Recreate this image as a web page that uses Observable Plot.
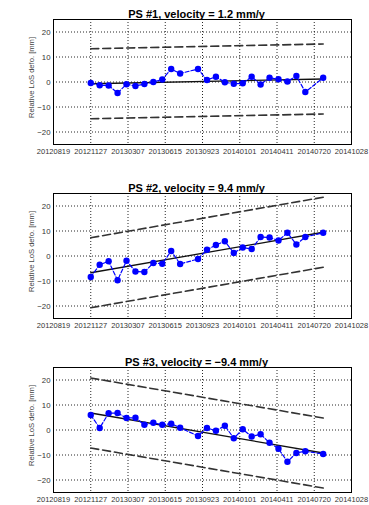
<!DOCTYPE html>
<html>
<head>
<meta charset="utf-8">
<script src="https://cdn.jsdelivr.net/npm/d3@7"></script>
<script src="https://cdn.jsdelivr.net/npm/@observablehq/plot@0.6"></script>
<style>
  html, body { margin: 0; padding: 0; background: white; overflow: hidden; }
  #chart svg { display: block; }
</style>
</head>
<body>
<div id="chart"></div>
<script>
// Acquisition dates (yyyymmdd)
const dates = ["20121127","20121221","20130114","20130207","20130303","20130327","20130420",
  "20130514","20130607","20130701","20130725","20130911","20131005","20131029","20131122",
  "20131216","20140109","20140202","20140226","20140322","20140415","20140509","20140602",
  "20140626","20140813"];

// Relative LoS deformation [mm] per PS
const ps1 = [-0.4,-1.3,-1.4,-4.4,-0.9,-1.6,-0.8,0.0,1.0,5.2,3.4,5.2,0.8,2.1,-0.1,-0.7,-0.5,2.1,-1.0,1.7,1.1,0.2,2.4,-4.0,1.7];
const ps2 = [-8.4,-3.5,-2.1,-9.7,-1.9,-6.2,-6.4,-2.8,-3.1,2.0,-3.2,-1.2,2.5,4.4,5.9,1.2,3.4,2.8,7.6,7.4,6.2,9.3,4.6,7.6,9.3];
const ps3 = [6.0,0.8,6.7,6.8,4.8,4.9,2.1,2.9,2.1,2.5,0.9,-2.4,0.8,-0.3,1.7,-3.3,0.3,-2.6,-1.7,-5.1,-7.5,-12.7,-9.2,-8.5,-9.6];

// Fitted trend (start, end) [mm] and confidence band half-width
const trend1 = [-0.7, 1.2];
const trend2 = [-6.7, 9.5];
const trend3 = [6.8, -9.2];
const bandHalfWidth = 14;

const titles = ["PS #1, velocity = 1.2 mm/y", "PS #2, velocity = 9.4 mm/y", "PS #3, velocity = \u22129.4 mm/y"];
const yLabel = "Relative LoS defo. [mm]";

const xTickLabels = ["20120819","20121127","20130307","20130615","20130923","20140101","20140411","20140720","20141028"];
const yTicks = [-20, -10, 0, 10, 20];

const parse = d3.utcParse("%Y%m%d");
const fmt = d3.utcFormat("%Y%m%d");
const xTicks = xTickLabels.map(parse);
const font = "'Liberation Sans', Arial, Helvetica, sans-serif";

function panel(title, vals, trend) {
  const data = dates.map((d, i) => ({date: parse(d), v: vals[i]}));
  const t0 = parse(dates[0]), t1 = parse(dates[dates.length - 1]);
  const tr = [{date: t0, v: trend[0]}, {date: t1, v: trend[1]}];
  return Plot.plot({
    width: 369,
    height: 174,
    marginLeft: 53,
    marginRight: 18,
    marginTop: 19,
    marginBottom: 30,
    style: {fontFamily: font, background: "white", overflow: "visible"},
    x: {type: "utc", domain: [xTicks[0], xTicks[xTicks.length - 1]]},
    y: {domain: [-25, 25]},
    marks: [
      Plot.gridX(xTicks, {stroke: "#000", strokeOpacity: 0.85, strokeDasharray: "1,2", strokeWidth: 1}),
      Plot.gridY(yTicks, {stroke: "#000", strokeOpacity: 0.85, strokeDasharray: "1,2", strokeWidth: 1}),
      Plot.frame({stroke: "#000", strokeWidth: 1}),
      Plot.axisX(xTicks, {tickFormat: fmt, tickSize: 0, tickPadding: 4, fontSize: 7.5, label: null, fill: "#333"}),
      Plot.axisY(yTicks, {tickSize: 0, tickPadding: 3, fontSize: 7.8, label: null, fill: "#333"}),
      Plot.line(tr, {x: "date", y: d => d.v + bandHalfWidth, stroke: "#333", strokeWidth: 1.6, strokeDasharray: "8,4"}),
      Plot.line(tr, {x: "date", y: d => d.v - bandHalfWidth, stroke: "#333", strokeWidth: 1.6, strokeDasharray: "8,4"}),
      Plot.line(tr, {x: "date", y: "v", stroke: "#111", strokeWidth: 1.3}),
      Plot.line(data, {x: "date", y: "v", stroke: "#0000ff", strokeWidth: 1.2, strokeDasharray: "4,2"}),
      Plot.dot(data, {x: "date", y: "v", r: 3.2, fill: "#0000ff", stroke: "none"}),
      Plot.text([title], {frameAnchor: "top", lineAnchor: "middle", dy: -5, dx: -6, fontSize: 11, fontWeight: "bold", fill: "#000"}),
      Plot.text([yLabel], {frameAnchor: "left", rotate: -90, textAnchor: "middle", lineAnchor: "middle", dx: -22, dy: -4.5, fontSize: 7.6, fill: "#444"})
    ]
  });
}

const root = document.getElementById("chart");
root.append(panel(titles[0], ps1, trend1));
root.append(panel(titles[1], ps2, trend2));
root.append(panel(titles[2], ps3, trend3));
</script>
</body>
</html>
